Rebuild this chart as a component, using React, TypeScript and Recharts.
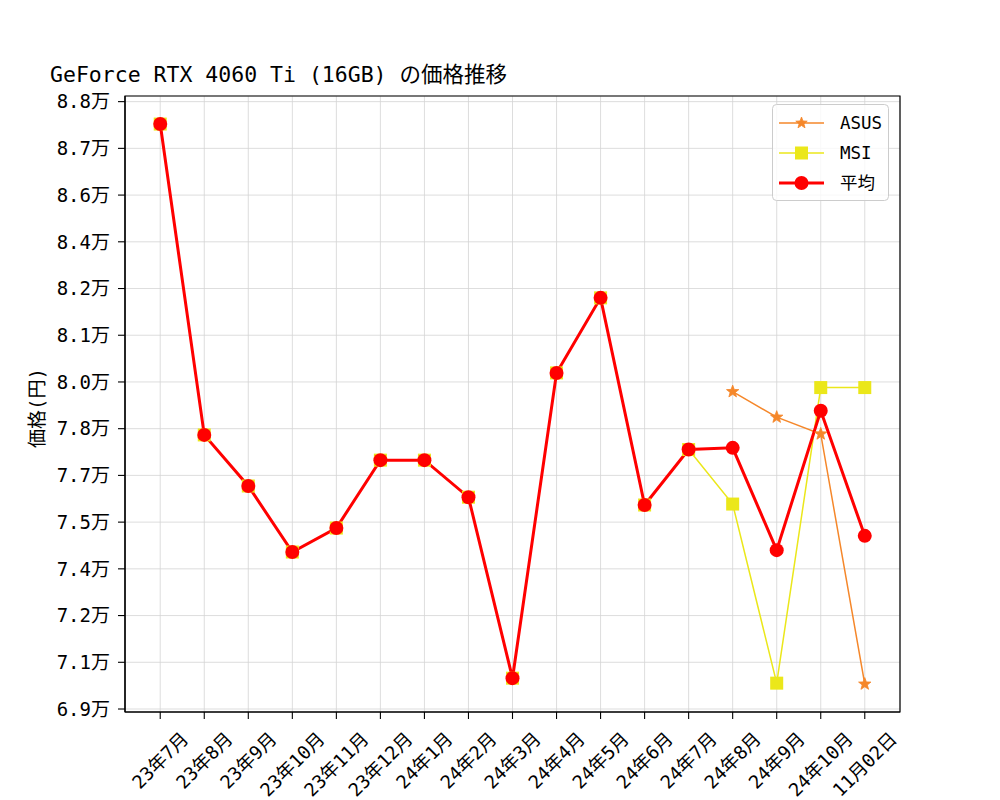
import React from 'react';
import { LineChart, Line, XAxis, YAxis, CartesianGrid, ReferenceArea } from 'recharts';

const categories = ['23年7月', '23年8月', '23年9月', '23年10月', '23年11月', '23年12月', '24年1月', '24年2月', '24年3月', '24年4月', '24年5月', '24年6月', '24年7月', '24年8月', '24年9月', '24年10月', '11月02日'];
const asusPrices: (number | null)[] = [null, null, null, null, null, null, null, null, null, null, null, null, null, 79190, 78370, 77830, 69800];
const msiPrices: (number | null)[] = [87780, 77800, 76160, 74040, 74810, 76990, 76990, 75800, 69990, 79790, 82200, 75550, 77330, 75580, 69830, 79320, 79320];
const avgPrices: (number | null)[] = [87780, 77800, 76160, 74040, 74810, 76990, 76990, 75800, 69990, 79790, 82200, 75550, 77330, 77385, 74100, 78575, 74560];
const yTickValues = [69000, 70500, 72000, 73500, 75000, 76500, 78000, 79500, 81000, 82500, 84000, 85500, 87000, 88500];
const yTickLabels = ['6.9万', '7.1万', '7.2万', '7.4万', '7.5万', '7.7万', '7.8万', '8.0万', '8.1万', '8.2万', '8.4万', '8.6万', '8.7万', '8.8万'];
const xTickValues = categories.map((_, i) => i);
const titleText = 'GeForce RTX 4060 Ti (16GB) の価格推移';
const yLabelText = '価格(円)';
const seriesNames = ['ASUS', 'MSI', '平均'];

const data = categories.map((c, i) => ({
  idx: i,
  label: c,
  asus: asusPrices[i],
  msi: msiPrices[i],
  avg: avgPrices[i],
}));

const FONT = "'DejaVu Sans Mono', 'Noto Sans CJK JP', monospace";
const ORANGE = '#f5872a';
const YELLOW = '#ebe71a';
const RED = '#ff0000';
const Y_DOMAIN: [number, number] = [68904, 88681];
const X_DOMAIN: [number, number] = [-0.8, 16.8];

function starPath(cx: number, cy: number, R: number, r: number) {
  let d = '';
  for (let k = 0; k < 10; k++) {
    const rad = k % 2 === 0 ? R : r;
    const a = -Math.PI / 2 + (k * Math.PI) / 5;
    const px = cx + rad * Math.cos(a);
    const py = cy + rad * Math.sin(a);
    d += (k === 0 ? 'M' : 'L') + px.toFixed(2) + ',' + py.toFixed(2);
  }
  return d + 'Z';
}

const StarDot = (props: any) => {
  const { cx, cy, payload, index } = props;
  if (cx == null || cy == null || payload == null || payload.asus == null) return <g key={'s' + index} />;
  return <path key={'s' + index} d={starPath(cx, cy, 6.5, 2.7)} fill={ORANGE} stroke={ORANGE} strokeWidth={0.8} />;
};

const SquareDot = (props: any) => {
  const { cx, cy, payload, index } = props;
  if (cx == null || cy == null || payload == null || payload.msi == null) return <g key={'q' + index} />;
  return <rect key={'q' + index} x={cx - 6.5} y={cy - 6.5} width={13} height={13} fill={YELLOW} />;
};

const CircleDot = (props: any) => {
  const { cx, cy, payload, index } = props;
  if (cx == null || cy == null || payload == null || payload.avg == null) return <g key={'c' + index} />;
  return <circle key={'c' + index} cx={cx} cy={cy} r={7} fill={RED} />;
};

function textWidth(s: string, fs: number) {
  let w = 0;
  for (const ch of s) {
    w += ch.charCodeAt(0) > 0x2e80 ? fs : fs * 0.602;
  }
  return w;
}

const XTick = (props: any) => {
  const { x, payload } = props;
  const label = categories[payload.value] ?? '';
  const fs = 18.5;
  const L = textWidth(label, fs);
  const H = fs;
  const top = 729;
  const cy = top + (L + H) / (2 * Math.SQRT2);
  return (
    <text
      x={x}
      y={cy}
      textAnchor="middle"
      dominantBaseline="central"
      transform={`rotate(-45, ${x}, ${cy})`}
      fontSize={fs}
      fontFamily={FONT}
      fill="#000"
    >
      {label}
    </text>
  );
};

const YTick = (props: any) => {
  const { x, y, payload } = props;
  const i = yTickValues.indexOf(payload.value);
  return (
    <text x={x} y={y} dy="0.355em" textAnchor="end" fontSize={19} fontFamily={FONT} fill="#000">
      {i >= 0 ? yTickLabels[i] : ''}
    </text>
  );
};

const LegendBox = () => {
  const rows = [
    { name: seriesNames[0], color: ORANGE, width: 1.5, marker: 'star' },
    { name: seriesNames[1], color: YELLOW, width: 1.5, marker: 'square' },
    { name: seriesNames[2], color: RED, width: 3, marker: 'circle' },
  ];
  return (
    <svg width={118} height={98} style={{ display: 'block' }}>
      <rect x={0.5} y={0.5} width={116} height={96} rx={4} ry={4} fill="#ffffff" fillOpacity={0.8} stroke="#cccccc" strokeWidth={1} />
      {rows.map((r, k) => {
        const cy = 19 + k * 30;
        const mx = 29.5;
        return (
          <g key={r.name}>
            <line x1={7} x2={52} y1={cy} y2={cy} stroke={r.color} strokeWidth={r.width} />
            {r.marker === 'star' && <path d={starPath(mx, cy, 6, 2.5)} fill={r.color} stroke={r.color} strokeWidth={0.8} />}
            {r.marker === 'square' && <rect x={mx - 6.5} y={cy - 6.5} width={13} height={13} fill={r.color} />}
            {r.marker === 'circle' && <circle cx={mx} cy={cy} r={7} fill={r.color} />}
            <text x={68} y={cy} dy="0.355em" fontSize={17.5} fontFamily={FONT} fill="#000">
              {r.name}
            </text>
          </g>
        );
      })}
    </svg>
  );
};

export default function App() {
  return (
    <div style={{ position: 'absolute', left: 0, top: 0, width: 1000, height: 800, background: '#ffffff' }}>
      <LineChart
        width={1000}
        height={800}
        data={data}
        margin={{ top: 96, right: 100, bottom: 0, left: 0 }}
        style={{ position: 'absolute', left: 0, top: 0 }}
      >
        <CartesianGrid stroke="#d4d4d4" strokeWidth={0.8} />
        <XAxis
          dataKey="idx"
          type="number"
          domain={X_DOMAIN}
          allowDataOverflow
          ticks={xTickValues}
          interval={0}
          height={88}
          tickSize={7}
          tickLine={{ stroke: '#000', strokeWidth: 1.1 }}
          axisLine={{ stroke: '#000', strokeWidth: 1.2 }}
          tick={<XTick />}
        />
        <YAxis
          type="number"
          domain={Y_DOMAIN}
          allowDataOverflow
          ticks={yTickValues}
          interval={0}
          width={125}
          tickSize={7}
          tickMargin={8}
          tickLine={{ stroke: '#000', strokeWidth: 1.1 }}
          axisLine={{ stroke: '#000', strokeWidth: 1.2 }}
          tick={<YTick />}
          label={{
            value: yLabelText,
            content: () => (
              <text
                x={37}
                y={408}
                transform="rotate(-90, 37, 408)"
                textAnchor="middle"
                dominantBaseline="central"
                fontSize={19}
                fontFamily={FONT}
                fill="#000"
              >
                {yLabelText}
              </text>
            ),
          }}
        />
        <ReferenceArea
          x1={X_DOMAIN[0]}
          x2={X_DOMAIN[1]}
          y1={Y_DOMAIN[0]}
          y2={Y_DOMAIN[1]}
          fill="none"
          fillOpacity={0}
          stroke="#000"
          strokeWidth={1.2}
          ifOverflow="visible"
        />
        <Line
          type="linear"
          dataKey="asus"
          name={seriesNames[0]}
          stroke={ORANGE}
          strokeWidth={1.5}
          dot={<StarDot />}
          activeDot={false}
          connectNulls={false}
          isAnimationActive={false}
        />
        <Line
          type="linear"
          dataKey="msi"
          name={seriesNames[1]}
          stroke={YELLOW}
          strokeWidth={1.5}
          dot={<SquareDot />}
          activeDot={false}
          isAnimationActive={false}
        />
        <Line
          type="linear"
          dataKey="avg"
          name={seriesNames[2]}
          stroke={RED}
          strokeWidth={3}
          dot={<CircleDot />}
          activeDot={false}
          isAnimationActive={false}
        />
      </LineChart>
      <svg width={1000} height={100} style={{ position: 'absolute', left: 0, top: 0, pointerEvents: 'none' }}>
        <text x={50} y={82} fontSize={21.5} fontFamily={FONT} fill="#000">
          {titleText}
        </text>
      </svg>
      <div style={{ position: 'absolute', left: 772, top: 104, width: 118, height: 98 }}>
        <LegendBox />
      </div>
    </div>
  );
}
